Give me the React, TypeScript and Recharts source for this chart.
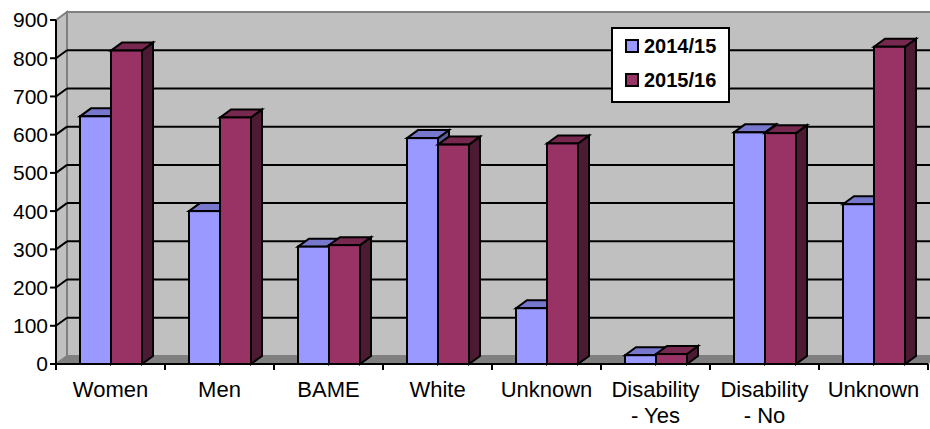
import React from 'react';
import { BarChart, Bar, XAxis, YAxis, CartesianGrid, ReferenceArea, Legend } from 'recharts';

// Category labels ("\n" splits a label over two lines)
const categories = ['Women', 'Men', 'BAME', 'White', 'Unknown', 'Disability\n- Yes', 'Disability\n- No', 'Unknown'];
// Counts per year
const series2014 = [648, 400, 307, 591, 146, 23, 606, 418];
const series2015 = [820, 645, 311, 574, 577, 26, 604, 830];
const seriesNames = ['2014/15', '2015/16'];
const yTicks = [0, 100, 200, 300, 400, 500, 600, 700, 800, 900];

const data = categories.map((label, i) => ({
  label,
  y2014: series2014[i],
  y2015: series2015[i],
}));

const FONT = '"Liberation Sans", Arial, sans-serif';
const W = 930;
const H = 429;
const MARGIN = { top: 20, right: 2, bottom: 0, left: 0 };
const Y_AXIS_W = 56;
const X_AXIS_H = 65;
const PLOT_W = W - MARGIN.left - MARGIN.right - Y_AXIS_W;
const BAND = PLOT_W / categories.length;

// depth offset of the pseudo-3D extrusion
const DX = 11;
const DY = 8;

const COLORS = {
  blue: { front: '#9999FF', top: '#7777CC', side: '#5C5C99' },
  red: { front: '#993366', top: '#76284F', side: '#4D1A33' },
};

function boxShape(c: { front: string; top: string; side: string }) {
  return (p: any) => {
    const { x, y, width, height } = p;
    if (x == null || y == null || !width || height == null) return <g />;
    const r = x + width;
    const b = y + height;
    return (
      <g stroke="#000" strokeWidth={2} strokeLinejoin="miter">
        <polygon points={`${r},${y} ${r + DX},${y - DY} ${r + DX},${b - DY} ${r},${b}`} fill={c.side} />
        <polygon points={`${x},${y} ${x + DX},${y - DY} ${r + DX},${y - DY} ${r},${y}`} fill={c.top} />
        <rect x={x} y={y} width={width} height={height} fill={c.front} />
      </g>
    );
  };
}

// back wall, left wall and floor of the plot box
const Walls = (p: any) => {
  const { x, y, width, height } = p;
  if (x == null) return <g />;
  const b = y + height;
  const r = x + width;
  return (
    <g>
      <polygon
        points={`${x + DX},${y - DY} ${r + DX},${y - DY} ${r + DX},${b - DY} ${x + DX},${b - DY}`}
        fill="#C0C0C0"
        stroke="#808080"
        strokeWidth={2}
      />
      <polygon
        points={`${x},${y} ${x + DX},${y - DY} ${x + DX},${b - DY} ${x},${b}`}
        fill="#C0C0C0"
        stroke="#808080"
        strokeWidth={2}
      />
      <polygon
        points={`${x},${b} ${x + DX},${b - DY} ${r + DX},${b - DY} ${r},${b}`}
        fill="#808080"
        stroke="#808080"
        strokeWidth={1}
      />
    </g>
  );
};

const GridLine = (p: any) => {
  const { x1, x2, y1, y, height } = p;
  if (y != null && height != null && (y1 <= y + 0.5 || y1 >= y + height - 0.5)) return <g />;
  return (
    <g stroke="#000" strokeWidth={2}>
      <line x1={x1} y1={y1} x2={x1 + DX} y2={y1 - DY} />
      <line x1={x1 + DX} y1={y1 - DY} x2={x2 + DX} y2={y1 - DY} />
    </g>
  );
};

const CategoryTick = (p: any) => {
  const { x, y, payload, index } = p;
  const lines = String(payload.value).split('\n');
  return (
    <g>
      <line x1={x - BAND / 2} x2={x - BAND / 2} y1={y} y2={y + 6} stroke="#000" strokeWidth={2} />
      {index === categories.length - 1 && (
        <line x1={x + BAND / 2} x2={x + BAND / 2} y1={y} y2={y + 6} stroke="#000" strokeWidth={2} />
      )}
      <text x={x} y={y + 33} textAnchor="middle" fontSize={22} fontFamily={FONT} fill="#000">
        {lines.map((l, i) => (
          <tspan key={i} x={x} dy={i === 0 ? 0 : 26}>
            {l}
          </tspan>
        ))}
      </text>
    </g>
  );
};

const LegendBox = (p: any) => {
  const items = (p.payload || []) as any[];
  return (
    <div
      style={{
        position: 'relative',
        width: 119,
        height: 76,
        border: '2px solid #000',
        background: '#fff',
        boxSizing: 'border-box',
        fontFamily: FONT,
        fontWeight: 'bold',
        fontSize: 20,
        color: '#000',
      }}
    >
      {items.map((it, i) => (
        <div
          key={i}
          style={{
            position: 'absolute',
            left: 12,
            top: 6 + i * 34,
            height: 22,
            display: 'flex',
            alignItems: 'center',
            whiteSpace: 'nowrap',
          }}
        >
          <span
            style={{
              display: 'inline-block',
              width: 14,
              height: 14,
              border: '2px solid #000',
              boxSizing: 'border-box',
              background: it.color,
            }}
          />
          <span style={{ marginLeft: 5, lineHeight: '22px' }}>{it.value}</span>
        </div>
      ))}
    </div>
  );
};

export default function App() {
  return (
    <div style={{ position: 'absolute', left: 0, top: 0, width: W, height: H, background: '#fff' }}>
      <BarChart width={W} height={H} data={data} margin={MARGIN} barGap={0}>
        <ReferenceArea y1={0} y2={900} shape={Walls} zIndex={-200} ifOverflow="visible" />
        <CartesianGrid vertical={false} horizontal={GridLine} />
        <XAxis
          dataKey="label"
          height={X_AXIS_H}
          interval={0}
          tickSize={0}
          tickMargin={0}
          tickLine={false}
          tick={CategoryTick}
          axisLine={{ stroke: '#000', strokeWidth: 2 }}
        />
        <YAxis
          width={Y_AXIS_W}
          domain={[0, 900]}
          ticks={yTicks}
          interval={0}
          tickSize={6}
          tickMargin={2}
          tick={{ fill: '#000', fontSize: 21, fontFamily: FONT }}
          tickLine={{ stroke: '#000', strokeWidth: 2 }}
          axisLine={{ stroke: '#000', strokeWidth: 2 }}
        />
        <Legend
          layout="vertical"
          align="center"
          verticalAlign="middle"
          content={LegendBox}
          wrapperStyle={{ position: 'absolute', left: 611, top: 27, width: 119, height: 76 }}
        />
        <Bar
          dataKey="y2014"
          name={seriesNames[0]}
          fill={COLORS.blue.front}
          barSize={31}
          shape={boxShape(COLORS.blue)}
          isAnimationActive={false}
        />
        <Bar
          dataKey="y2015"
          name={seriesNames[1]}
          fill={COLORS.red.front}
          barSize={31}
          shape={boxShape(COLORS.red)}
          isAnimationActive={false}
        />
      </BarChart>
    </div>
  );
}
